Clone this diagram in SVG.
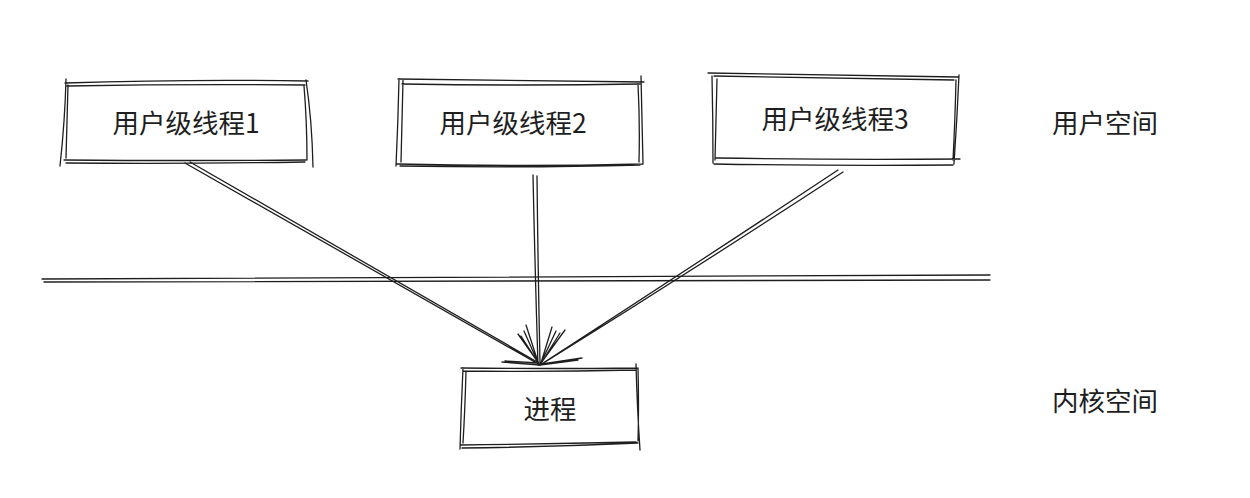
<svg xmlns="http://www.w3.org/2000/svg" width="1250" height="498" viewBox="0 0 1250 498">
<style>
.s{fill:none;stroke:#1e1e1e;stroke-width:1.3;stroke-linecap:round;stroke-linejoin:round}
.t{font-family:"Noto Sans CJK SC","Noto Sans",sans-serif;font-size:26.5px;fill:#1e1e1e;text-anchor:middle;dominant-baseline:central}
</style>
<rect width="1250" height="498" fill="#ffffff"/>
<g id="node-thread1">
<path class="s" d="M65 83 Q190 79 308 81 M67 86 Q185 84 305 85 M66 79 Q65 120 60 166 M68 85 Q67 125 66 158 M306 80 Q312 120 313 167 M304 86 Q307 122 307 160 M64 160 Q190 161 306 160 M66 163 Q185 164 305 162"/>
<text class="t" x="186" y="121">用户级线程1</text>
</g>
<g id="node-thread2">
<path class="s" d="M398 79 Q520 80 644 82 M402 84 Q525 86 640 84 M399 79 Q398 124 396 166 M403 80 Q402 122 401 162 M641 76 Q642 122 643 164 M638 84 Q640 122 639 162 M397 164 Q520 167 643 164 M400 166 Q525 168 640 165"/>
<text class="t" x="513" y="121">用户级线程2</text>
</g>
<g id="node-thread3">
<path class="s" d="M708 73 Q830 75 958 77 M714 76 Q835 78 954 80 M712 76 Q713 120 713 163 M717 79 Q716 120 715 160 M959 75 Q957 120 954 164 M956 80 Q955 122 953 160 M716 158 Q835 160 960 159 M714 164 Q835 166 953 165"/>
<text class="t" x="835" y="117">用户级线程3</text>
</g>
<g id="node-process">
<path class="s" d="M461 368 Q550 369 638 368 M463 371 Q550 372 636 370 M463 368 Q461 410 460 449 M466 371 Q465 410 463 443 M636 364 Q637 405 640 450 M638 368 Q639 405 638 441 M460 445 Q550 444 636 442 M462 448 Q550 447 638 443"/>
<text class="t" x="550" y="407">进程</text>
</g>
<g id="labels">
<text class="t" x="1105" y="121">用户空间</text>
<text class="t" x="1105" y="399">内核空间</text>
</g>
<g id="connectors">
<path class="s" d="M42 279 Q500 278 990 275 M44 282 Q500 281 990 280"/>
<path class="s" d="M185 163 Q360 262 540 365 M190 162 Q365 262 539 363 M502 362 L540 365 M518 334 L540 365 M505 361 L538 363 M521 336 L539 364"/>
<path class="s" d="M533 175 Q535 270 538 365 M537 176 Q538 270 540 363 M524 331 L539 365 M556 331 L540 365 M526 325 L538 362 M552 327 L541 363"/>
<path class="s" d="M838 170 Q690 268 540 365 M843 172 Q693 270 542 364 M560 333 L540 365 M578 360 L540 365 M565 330 L541 363 M582 358 L542 364"/>
</g>
</svg>
